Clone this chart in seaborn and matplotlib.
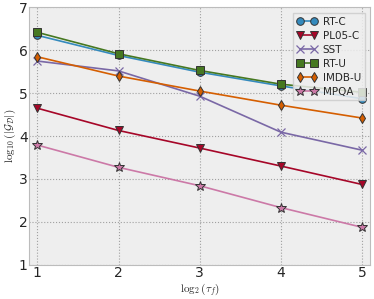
import matplotlib
matplotlib.use("Agg")
import matplotlib.pyplot as plt
import seaborn as sns
import pandas as pd

# x positions: log2(tau_f)
tau = [1, 2, 3, 4, 5]

# values
rt_c = [6.35, 5.88, 5.49, 5.17, 4.87]
pl05_c = [4.65, 4.13, 3.72, 3.30, 2.87]
sst = [5.75, 5.52, 4.93, 4.09, 3.67]
rt_u = [6.42, 5.92, 5.53, 5.21, 5.02]
imdb_u = [5.85, 5.40, 5.05, 4.72, 4.42]
mpqa = [3.79, 3.27, 2.84, 2.33, 1.87]

names = ["RT-C", "PL05-C", "SST", "RT-U", "IMDB-U", "MPQA"]
series = [rt_c, pl05_c, sst, rt_u, imdb_u, mpqa]
colors = ["#348ABD", "#A60628", "#7A68A6", "#467821", "#D55E00", "#CC79A7"]
markers = ["o", "v", "x", "s", "d", "*"]

sns.set_style("darkgrid", {"axes.facecolor": "#EEEEEE",
                           "grid.color": "#A0A0A0",
                           "grid.linestyle": ":",
                           "axes.edgecolor": "#BCBCBC",
                           "axes.linewidth": 1.0})
plt.rcParams["mathtext.fontset"] = "cm"
plt.rcParams["font.family"] = ["DejaVu Sans"]

fig, ax = plt.subplots(figsize=(3.74, 2.99), dpi=100)
fig.subplots_adjust(left=0.078, right=0.99, top=0.975, bottom=0.115)

for name, vals, c, m in zip(names, series, colors, markers):
    df = pd.DataFrame({"x": tau, "y": vals})
    sns.lineplot(data=df, x="x", y="y", ax=ax, color=c, marker=m,
                 markersize=7 if m == "*" else 5.5,
                 markeredgecolor="#333333" if m != "x" else c,
                 markeredgewidth=0.7 if m != "x" else 0.9, linewidth=1.2, label=name)

ax.set_xlim(0.9, 5.1)
ax.set_ylim(1, 7)
ax.set_xticks(tau)
ax.set_yticks(range(1, 8))
ax.tick_params(labelsize=10, pad=1, length=0)
ax.set_xlabel(r"$\log_2(\tau_f)$", fontsize=8, labelpad=1)
ax.set_ylabel(r"$\log_{10}(|\mathcal{G}_{\mathcal{D}}|)$", fontsize=8, labelpad=1)
ax.grid(True, color="#A0A0A0", linestyle=":", linewidth=0.8)

leg = ax.legend(loc="upper right", numpoints=2, fontsize=7.5, frameon=True,
                fancybox=False, framealpha=0.85, borderpad=0.35,
                handlelength=2.0, handletextpad=0.5, labelspacing=0.38,
                borderaxespad=0.55)
leg.get_frame().set_facecolor("#EEEEEE")
leg.get_frame().set_edgecolor("#CCCCCC")

fig.savefig("out.png", dpi=100)
